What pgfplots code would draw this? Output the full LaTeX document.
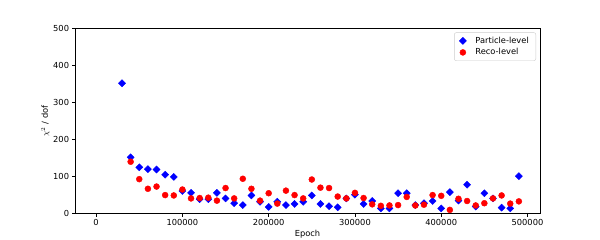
\documentclass[border=0pt]{standalone}
\usepackage{fontspec}
\setmainfont{DejaVu Sans}
\usepackage{pgfplots}
\pgfplotsset{compat=1.18}
\begin{document}
\fontsize{8.3}{10}\selectfont
\begin{tikzpicture}
\path[use as bounding box] (0pt,0pt) rectangle (600pt,240pt);
\begin{axis}[
  at={(75pt,26.4pt)}, anchor=south west,
  width=465pt, height=185.2pt, scale only axis,
  xmin=-24500, xmax=514500, ymin=0, ymax=500,
  xtick={0,100000,200000,300000,400000,500000},
  ytick={0,100,200,300,400,500},
  xticklabels={0,100000,200000,300000,400000,500000},
  scaled ticks=false,
  xtick pos=bottom, ytick pos=left,
  tick align=outside, major tick length=3pt,
  tick style={black, line width=0.6pt},
  axis line style={black, line width=0.6pt},
  /pgf/number format/assume math mode=true,
  ticklabel style={font=\fontsize{8.3}{10}\selectfont},
  xlabel={Epoch},
  ylabel={$\chi^{2}$ / dof},
  label style={font=\fontsize{8.3}{10}\selectfont},
  xlabel style={yshift=1.5pt},
  ylabel style={yshift=-2pt},
  legend style={at={(1,1)}, anchor=north east, xshift=-4pt, yshift=-4pt,
    draw=black!20, rounded corners=2pt, font=\fontsize{8.3}{10}\selectfont,
    inner xsep=5pt, inner ysep=2.5pt, row sep=0pt, column sep=7pt, legend cell align=left},
]
\addplot[only marks, mark=square*, mark options={rotate=45, fill=blue, draw=blue}, mark size=2.5pt]
coordinates {(30000,352)(40000,152)(50000,125)(60000,120)(70000,119)(80000,105)(90000,99)(100000,61)(110000,56)(120000,39)(130000,39)(140000,56)(150000,41)(160000,28)(170000,23)(180000,49)(190000,32)(200000,18)(210000,32)(220000,23)(230000,26)(240000,32)(250000,49)(260000,26)(270000,20)(280000,17)(290000,41)(300000,51)(310000,26)(320000,34)(330000,14)(340000,14)(350000,55)(360000,55)(370000,23)(380000,28)(390000,34)(400000,14)(410000,58)(420000,35)(430000,78)(440000,19)(450000,55)(460000,41)(470000,16)(480000,14)(490000,101)};
\addlegendentry{Particle-level}
\addplot[only marks, mark=*, mark options={fill=red, draw=red}, mark size=3pt]
coordinates {(40000,140)(50000,93)(60000,67)(70000,73)(80000,50)(90000,49)(100000,65)(110000,41)(120000,42)(130000,43)(140000,35)(150000,69)(160000,41)(170000,94)(180000,67)(190000,35)(200000,55)(210000,27)(220000,62)(230000,50)(240000,41)(250000,92)(260000,70)(270000,69)(280000,46)(290000,41)(300000,56)(310000,42)(320000,25)(330000,21)(340000,22)(350000,23)(360000,45)(370000,22)(380000,24)(390000,50)(400000,48)(410000,10)(420000,40)(430000,34)(440000,22)(450000,28)(460000,41)(470000,49)(480000,27)(490000,33)};
\addlegendentry{Reco-level}
\end{axis}
\end{tikzpicture}
\end{document}
